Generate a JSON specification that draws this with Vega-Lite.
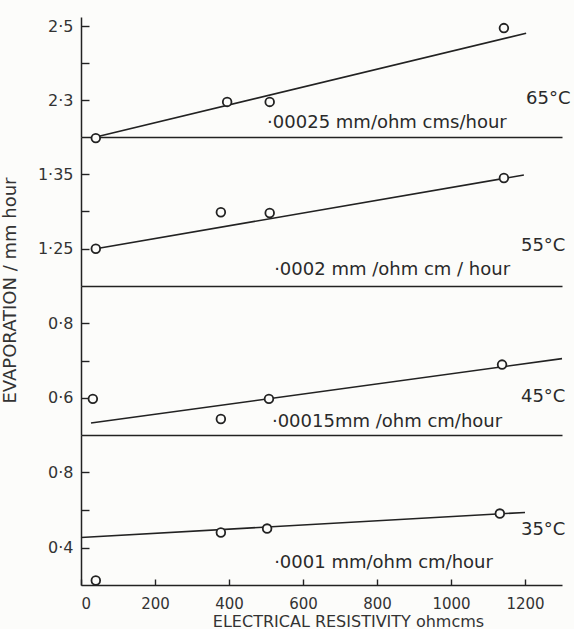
{
  "$schema": "https://vega.github.io/schema/vega-lite/v6.json",
  "padding": {"left": 0, "top": 17, "right": 3, "bottom": 0},
  "background": "#fcfcfa",
  "spacing": 0,
  "bounds": "flush",
  "config": {
    "view": {"stroke": null},
    "concat": {"spacing": 0},
    "axis": {
      "grid": false,
      "domainColor": "#222222",
      "domainWidth": 1.5,
      "tickColor": "#222222",
      "tickWidth": 1.4,
      "labelColor": "#333333",
      "titleColor": "#333333",
      "labelFont": "DejaVu Sans",
      "titleFont": "DejaVu Sans",
      "labelFontSize": 16,
      "titleFontSize": 18,
      "titleFontWeight": "normal"
    },
    "text": {"font": "DejaVu Sans", "color": "#2a2a2a"}
  },
  "datasets": {
    "points": [
      {"temp": 65, "resistivity": 40, "evaporation": 2.197},
      {"temp": 65, "resistivity": 395, "evaporation": 2.295},
      {"temp": 65, "resistivity": 510, "evaporation": 2.295},
      {"temp": 65, "resistivity": 1143, "evaporation": 2.495},
      {"temp": 55, "resistivity": 40, "evaporation": 1.25},
      {"temp": 55, "resistivity": 378, "evaporation": 1.299},
      {"temp": 55, "resistivity": 510, "evaporation": 1.298},
      {"temp": 55, "resistivity": 1143, "evaporation": 1.345},
      {"temp": 45, "resistivity": 32, "evaporation": 0.597},
      {"temp": 45, "resistivity": 378, "evaporation": 0.543},
      {"temp": 45, "resistivity": 508, "evaporation": 0.597},
      {"temp": 45, "resistivity": 1138, "evaporation": 0.689},
      {"temp": 35, "resistivity": 40, "evaporation": 0.224},
      {"temp": 35, "resistivity": 378, "evaporation": 0.48},
      {"temp": 35, "resistivity": 503, "evaporation": 0.501},
      {"temp": 35, "resistivity": 1132, "evaporation": 0.581}
    ],
    "fits": [
      {"temp": 65, "resistivity": 40, "evaporation": 2.2},
      {"temp": 65, "resistivity": 1203, "evaporation": 2.481},
      {"temp": 55, "resistivity": 40, "evaporation": 1.25},
      {"temp": 55, "resistivity": 1197, "evaporation": 1.349},
      {"temp": 45, "resistivity": 27, "evaporation": 0.532},
      {"temp": 45, "resistivity": 1300, "evaporation": 0.705},
      {"temp": 35, "resistivity": 0, "evaporation": 0.453},
      {"temp": 35, "resistivity": 1200, "evaporation": 0.587}
    ],
    "temps": [
      {"temp": 65, "resistivity": 1203, "evaporation": 2.303, "label": "65°C"},
      {"temp": 55, "resistivity": 1189, "evaporation": 1.254, "label": "55°C"},
      {"temp": 45, "resistivity": 1189, "evaporation": 0.603, "label": "45°C"},
      {"temp": 35, "resistivity": 1189, "evaporation": 0.496, "label": "35°C"}
    ],
    "rates": [
      {"temp": 65, "resistivity": 503, "evaporation": 2.238, "label": "·00025 mm/ohm  cms/hour"},
      {"temp": 55, "resistivity": 522, "evaporation": 1.222, "label": "·0002 mm /ohm cm / hour"},
      {"temp": 45, "resistivity": 516, "evaporation": 0.535, "label": "·00015mm  /ohm cm/hour"},
      {"temp": 35, "resistivity": 522, "evaporation": 0.32, "label": "·0001 mm/ohm  cm/hour"}
    ]
  },
  "vconcat": [
    {
      "width": 481,
      "height": 120,
      "encoding": {
        "x": {"field": "resistivity", "type": "quantitative", "scale": {"domain": [0, 1300]},
              "axis": {"title": null, "labels": false, "ticks": false}},
        "y": {"field": "evaporation", "type": "quantitative", "scale": {"domain": [2.2, 2.525]},
              "axis": {"title": null, "values": [2.3, 2.4, 2.5], "tickSize": -8, "labelPadding": 16,
                       "labelExpr": "datum.value == 2.4 ? '' : replace(format(datum.value, '.1f'), '.', '·')"}}
      },
      "layer": [
        {"data": {"name": "fits"}, "transform": [{"filter": "datum.temp == 65"}],
         "mark": {"type": "line", "color": "#222222", "strokeWidth": 1.6}},
        {"data": {"name": "points"}, "transform": [{"filter": "datum.temp == 65"}],
         "mark": {"type": "point", "shape": "circle", "filled": true, "fill": "#fcfcfa", "stroke": "#222222", "strokeWidth": 1.8, "size": 75, "opacity": 1}},
        {"data": {"name": "temps"}, "transform": [{"filter": "datum.temp == 65"}],
         "mark": {"type": "text", "align": "left", "baseline": "middle", "fontSize": 18},
         "encoding": {"text": {"field": "label"}}},
        {"data": {"name": "rates"}, "transform": [{"filter": "datum.temp == 65"}],
         "mark": {"type": "text", "align": "left", "baseline": "middle", "fontSize": 18},
         "encoding": {"text": {"field": "label"}}}
      ]
    },
    {
      "width": 481,
      "height": 149,
      "encoding": {
        "x": {"field": "resistivity", "type": "quantitative", "scale": {"domain": [0, 1300]},
              "axis": {"title": null, "labels": false, "ticks": false}},
        "y": {"field": "evaporation", "type": "quantitative", "scale": {"domain": [1.2, 1.4]},
              "axis": {"title": null, "values": [1.25, 1.3, 1.35], "tickSize": -8, "labelPadding": 16,
                       "labelExpr": "datum.value == 1.3 ? '' : replace(format(datum.value, '.2f'), '.', '·')"}}
      },
      "layer": [
        {"data": {"name": "fits"}, "transform": [{"filter": "datum.temp == 55"}],
         "mark": {"type": "line", "color": "#222222", "strokeWidth": 1.6}},
        {"data": {"name": "points"}, "transform": [{"filter": "datum.temp == 55"}],
         "mark": {"type": "point", "shape": "circle", "filled": true, "fill": "#fcfcfa", "stroke": "#222222", "strokeWidth": 1.8, "size": 75, "opacity": 1}},
        {"data": {"name": "temps"}, "transform": [{"filter": "datum.temp == 55"}],
         "mark": {"type": "text", "align": "left", "baseline": "middle", "fontSize": 18},
         "encoding": {"text": {"field": "label"}}},
        {"data": {"name": "rates"}, "transform": [{"filter": "datum.temp == 55"}],
         "mark": {"type": "text", "align": "left", "baseline": "middle", "fontSize": 18},
         "encoding": {"text": {"field": "label"}}}
      ]
    },
    {
      "width": 481,
      "height": 149,
      "encoding": {
        "x": {"field": "resistivity", "type": "quantitative", "scale": {"domain": [0, 1300]},
              "axis": {"title": null, "labels": false, "ticks": false}},
        "y": {"field": "evaporation", "type": "quantitative", "scale": {"domain": [0.5, 0.9]},
              "axis": {"title": "EVAPORATION / mm hour", "titleX": -71, "titleY": 4, "titleBaseline": "middle",
                       "values": [0.6, 0.7, 0.8], "tickSize": -8, "labelPadding": 16,
                       "labelExpr": "datum.value == 0.7 ? '' : replace(format(datum.value, '.1f'), '.', '·')"}}
      },
      "layer": [
        {"data": {"name": "fits"}, "transform": [{"filter": "datum.temp == 45"}],
         "mark": {"type": "line", "color": "#222222", "strokeWidth": 1.6}},
        {"data": {"name": "points"}, "transform": [{"filter": "datum.temp == 45"}],
         "mark": {"type": "point", "shape": "circle", "filled": true, "fill": "#fcfcfa", "stroke": "#222222", "strokeWidth": 1.8, "size": 75, "opacity": 1}},
        {"data": {"name": "temps"}, "transform": [{"filter": "datum.temp == 45"}],
         "mark": {"type": "text", "align": "left", "baseline": "middle", "fontSize": 18},
         "encoding": {"text": {"field": "label"}}},
        {"data": {"name": "rates"}, "transform": [{"filter": "datum.temp == 45"}],
         "mark": {"type": "text", "align": "left", "baseline": "middle", "fontSize": 18},
         "encoding": {"text": {"field": "label"}}}
      ]
    },
    {
      "width": 481,
      "height": 150,
      "encoding": {
        "x": {"field": "resistivity", "type": "quantitative", "scale": {"domain": [0, 1300]},
              "axis": {"title": "ELECTRICAL   RESISTIVITY   ohmcms", "values": [0, 200, 400, 600, 800, 1000, 1200],
                       "format": "d", "labelFontSize": 15, "titleFontSize": 16, "titleX": 267,
                       "tickSize": -6, "labelPadding": 17, "titlePadding": 2}},
        "y": {"field": "evaporation", "type": "quantitative", "scale": {"domain": [0.2, 1.0]},
              "axis": {"title": null, "values": [0.4, 0.6, 0.8], "tickSize": -8, "labelPadding": 16,
                       "labelExpr": "datum.value == 0.6 ? '' : replace(format(datum.value, '.1f'), '.', '·')"}}
      },
      "layer": [
        {"data": {"name": "fits"}, "transform": [{"filter": "datum.temp == 35"}],
         "mark": {"type": "line", "color": "#222222", "strokeWidth": 1.6}},
        {"data": {"name": "points"}, "transform": [{"filter": "datum.temp == 35"}],
         "mark": {"type": "point", "shape": "circle", "filled": true, "fill": "#fcfcfa", "stroke": "#222222", "strokeWidth": 1.8, "size": 75, "opacity": 1}},
        {"data": {"name": "temps"}, "transform": [{"filter": "datum.temp == 35"}],
         "mark": {"type": "text", "align": "left", "baseline": "middle", "fontSize": 18},
         "encoding": {"text": {"field": "label"}}},
        {"data": {"name": "rates"}, "transform": [{"filter": "datum.temp == 35"}],
         "mark": {"type": "text", "align": "left", "baseline": "middle", "fontSize": 18},
         "encoding": {"text": {"field": "label"}}}
      ]
    }
  ]
}
